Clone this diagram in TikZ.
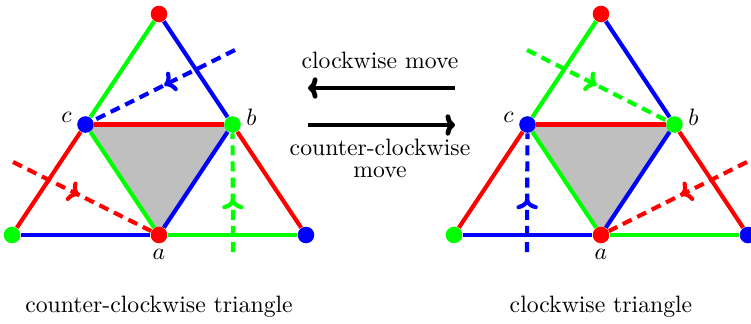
\documentclass[tikz,border=0pt]{standalone}
\usepackage{amsmath,amssymb}
\usepackage{xcolor}
\usepackage{tikz}
\usetikzlibrary{positioning,arrows.meta,decorations.markings,backgrounds}

\begin{document}
\begin{tikzpicture}[x=0.422pt, y=-0.422pt,
    side/.style={line width=1.75pt},
    dot/.style={circle, fill=#1, inner sep=0pt, minimum size=7pt},
    vlabel/.style={inner sep=1pt},
    dual/.style={line width=1.75pt, dash pattern=on 4.2pt off 2.6pt,
      postaction={decorate},
      decoration={markings, mark=at position #1 with {\arrow{To[length=4.5pt, width=9pt]}}}},
    move/.style={line width=2pt, -{To[length=4pt, width=9pt]}}]
  \useasboundingbox (0,0) rectangle (751,323);

  % Left half: counter-clockwise triangle
  \begin{scope}[shift={(159,235)}]
    \node[dot=red]   (L-top) at (0,-221) {};
    \node[dot=green] (L-l)   at (-147,0) {};
    \node[dot=blue]  (L-r)   at (147,0) {};
    \node[dot=blue]  (L-c)   at (-73.5,-110.5) {};
    \node[dot=green] (L-b)   at (73.5,-110.5) {};
    \node[dot=red]   (L-a)   at (0,0) {};

    \node[vlabel, left=1pt of L-c, yshift=3pt] (L-clab) {$c$};
    \node[vlabel, right=1pt of L-b, yshift=3pt] (L-blab) {$b$};
    \node[vlabel, below=1pt of L-a] (L-alab) {$a$};

    % free ends of the dashed lines
    \coordinate (L-cfar) at (76,-185);
    \coordinate (L-afar) at (-146,-73);
    \coordinate (L-bfar) at (74,17);

    \begin{scope}[on background layer]
      \fill[lightgray] (L-c.center) -- (L-b.center) -- (L-a.center) -- cycle;
      \draw[side, green] (L-top) -- (L-c);
      \draw[side, blue]  (L-top) -- (L-b);
      \draw[side, red]   (L-c) -- (L-l);
      \draw[side, red]   (L-b) -- (L-r);
      \draw[side, blue]  (L-l) -- (L-a);
      \draw[side, green] (L-a) -- (L-r);
      \draw[side, red]   (L-c) -- (L-b);
      \draw[side, green] (L-c) -- (L-a);
      \draw[side, blue]  (L-b) -- (L-a);

      \draw[dual=0.5, blue]   (L-cfar) -- (L-c);
      \draw[dual=0.48, red]   (L-afar) -- (L-a);
      \draw[dual=0.45, green] (L-bfar) -- (L-b);
    \end{scope}
  \end{scope}

  % Right half: clockwise triangle
  \begin{scope}[shift={(601,235)}]
    \node[dot=red]   (R-top) at (0,-221) {};
    \node[dot=green] (R-l)   at (-147,0) {};
    \node[dot=blue]  (R-r)   at (147,0) {};
    \node[dot=blue]  (R-c)   at (-73.5,-110.5) {};
    \node[dot=green] (R-b)   at (73.5,-110.5) {};
    \node[dot=red]   (R-a)   at (0,0) {};

    \node[vlabel, left=1pt of R-c, yshift=3pt] (R-clab) {$c$};
    \node[vlabel, right=1pt of R-b, yshift=3pt] (R-blab) {$b$};
    \node[vlabel, below=1pt of R-a] (R-alab) {$a$};

    % free ends of the dashed lines
    \coordinate (R-bfar) at (-74,-185);
    \coordinate (R-cfar) at (-74,17);
    \coordinate (R-afar) at (146,-73);

    \begin{scope}[on background layer]
      \fill[lightgray] (R-c.center) -- (R-b.center) -- (R-a.center) -- cycle;
      \draw[side, green] (R-top) -- (R-c);
      \draw[side, blue]  (R-top) -- (R-b);
      \draw[side, red]   (R-c) -- (R-l);
      \draw[side, red]   (R-b) -- (R-r);
      \draw[side, blue]  (R-l) -- (R-a);
      \draw[side, green] (R-a) -- (R-r);
      \draw[side, red]   (R-c) -- (R-b);
      \draw[side, green] (R-c) -- (R-a);
      \draw[side, blue]  (R-b) -- (R-a);

      \draw[dual=0.5, green] (R-bfar) -- (R-b);
      \draw[dual=0.45, blue] (R-cfar) -- (R-c);
      \draw[dual=0.48, red]  (R-afar) -- (R-a);
    \end{scope}
  \end{scope}

  % moves between the two
  \node (cw-text) at (380,60) {clockwise move};
  \coordinate (cw-from) at (455,88);
  \coordinate (cw-to) at (308,88);
  \draw[move] (cw-from) -- (cw-to);

  \coordinate (ccw-from) at (308,125);
  \coordinate (ccw-to) at (455,125);
  \draw[move] (ccw-from) -- (ccw-to);
  \node[align=center] (ccw-text) at (380,158) {counter-clockwise\\[-2.7pt]move};

  % captions
  \node (ccw-cap) at (159,307) {counter-clockwise triangle};
  \node (cw-cap) at (601,307) {clockwise triangle};
\end{tikzpicture}
\end{document}
